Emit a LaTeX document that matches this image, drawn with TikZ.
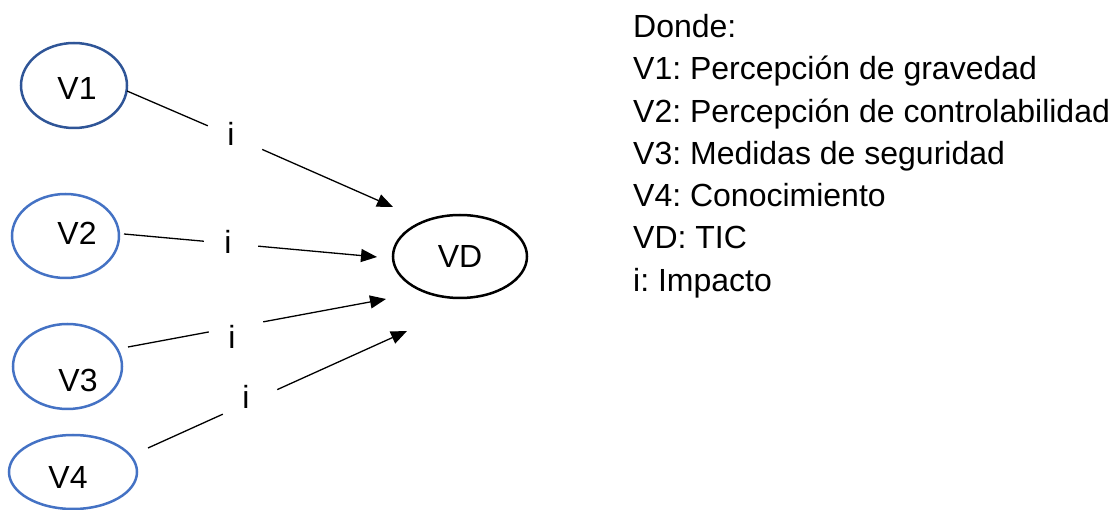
\documentclass[tikz,border=0pt]{standalone}
\usepackage{fontspec}
\setmainfont{Liberation Sans}
\usetikzlibrary{shapes.geometric,arrows.meta}
\definecolor{darkblue}{HTML}{2F5597}
\definecolor{midblue}{HTML}{4472C4}
\frenchspacing
\tikzset{
  var/.style={ellipse, draw=midblue, line width=2.5pt, inner sep=0pt},
  dep/.style={ellipse, draw=black, line width=2.5pt, inner sep=0pt},
  ibox/.style={rectangle, minimum width=54pt, minimum height=44pt, inner sep=0pt},
  conn/.style={line width=1.3pt, -{Triangle[length=16pt,width=13pt]}},
  legend/.style={anchor=base west, inner sep=0pt},
  every node/.style={font=\fontsize{32pt}{38pt}\selectfont}
}
\begin{document}
\begin{tikzpicture}[x=1pt,y=-1pt]
\useasboundingbox (0,0) rectangle (1112,510);
% variables
\node[var, draw=darkblue, minimum width=106pt, minimum height=85pt,
      label={[xshift=3pt,yshift=-2.5pt]center:V1}] (V1) at (74,85.5) {};
\node[var, minimum width=107pt, minimum height=84pt,
      label={[xshift=11.5pt,yshift=2.5pt]center:V2}] (V2) at (65.5,236) {};
\node[var, minimum width=109pt, minimum height=85pt,
      label={[xshift=10.5pt,yshift=-14pt]center:V3}] (V3) at (67.5,366.5) {};
\node[var, minimum width=128pt, minimum height=74pt,
      label={[xshift=-5pt,yshift=-5.5pt]center:V4}] (V4) at (73,472) {};
\node[dep, minimum width=134pt, minimum height=83pt] (VD) at (460,256.5) {VD};
% connector ends
\coordinate (s1) at (127,91);
\coordinate (s2) at (124,234);
\coordinate (s3) at (128,347);
\coordinate (s4) at (148,448);
\coordinate (t1) at (393,207);
\coordinate (t2) at (377,257);
\coordinate (t3) at (386,299);
\coordinate (t4) at (407,331);
% impact labels
\node[ibox, label={[xshift=-4pt,yshift=4pt]center:i}] (i1) at (235,137.5) {};
\node[ibox, label={[xshift=-3pt,yshift=1.5pt]center:i}] (i2) at (231,243.7) {};
\node[ibox, label={[xshift=-4pt,yshift=-10pt]center:i}] (i3) at (236,326.9) {};
\node[ibox, label={[xshift=-4pt,yshift=4.5pt]center:i}] (i4) at (250,401.9) {};
% connectors
\draw[conn] (s1) -- (i1) -- (t1);
\draw[conn] (s2) -- (i2) -- (t2);
\draw[conn] (s3) -- (i3) -- (t3);
\draw[conn] (s4) -- (i4) -- (t4);
% legend
\node[legend] (L0) at (633,38) {Donde:};
\node[legend] (L1) at (633,80) {V1: Percepción de gravedad};
\node[legend] (L2) at (633,122.4) {V2: Percepción de controlabilidad};
\node[legend] (L3) at (633,164.6) {V3: Medidas de seguridad};
\node[legend] (L4) at (633,206.8) {V4: Conocimiento};
\node[legend] (L5) at (633,249) {VD: TIC};
\node[legend] (L6) at (633,291.2) {i: Impacto};
\end{tikzpicture}
\end{document}
